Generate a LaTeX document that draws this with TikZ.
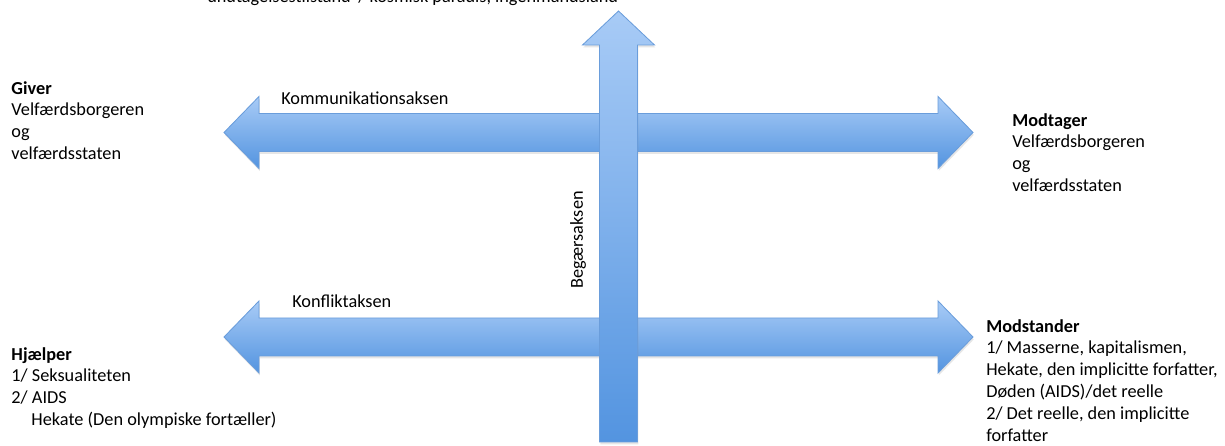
\documentclass[tikz,border=0pt]{standalone}
\usepackage{fontspec}
\setmainfont{Carlito}
\usetikzlibrary{shadows}
\definecolor{axislight}{HTML}{A8CBF6}
\definecolor{axisdark}{HTML}{5394E0}
\definecolor{axisline}{HTML}{6A9DDB}
\tikzset{
axis/.style={draw=axisline, line width=0.6pt, top color=axislight, bottom color=axisdark,
  drop shadow={shadow xshift=0.02cm, shadow yshift=-0.06cm, opacity=0.2}},
lbl/.style={inner sep=0, font=\fontsize{13}{15.5}\selectfont, align=left},
twoway/.pic={
  \draw[axis] (-9.3625,0) -- (-8.4875,0.9) -- (-8.4875,0.475) -- (8.4875,0.475) -- (8.4875,0.9)
    -- (9.3625,0) -- (8.4875,-0.9) -- (8.4875,-0.475) -- (-8.4875,-0.475) -- (-8.4875,-0.9) -- cycle;
  },
oneway/.pic={
  \draw[axis] (-0.475,0) -- (-0.475,9.925) -- (-0.9,9.925) -- (0,10.775) -- (0.9,9.925)
    -- (0.475,9.925) -- (0.475,0) -- cycle;
  }
}
\begin{document}
\begin{tikzpicture}
\useasboundingbox (0,0) rectangle (30.625,11.15);
  \pic at (14.9625,7.8375) {twoway};
  \pic at (14.9625,2.725) {twoway};
  \pic at (15.4625,0.1) {oneway};
\node[lbl, anchor=base west] (objekt) at (5.175,11.075) {undtagelsestilstand”/ kosmisk paradis, ingenmandsland};
\node[lbl, anchor=west] (kommunikation) at (7.025,8.7) {Kommunikationsaksen};
\node[lbl, anchor=west] (konflikt) at (7.3,3.625) {Konfliktaksen};
\node[lbl, rotate=90] (begaer) at (14.45,5.15) {Begærsaksen};
\node[lbl, anchor=north west] (giver) at (0.28,9.125) {\textbf{Giver}\\Velfærdsborgeren\\og\\velfærdsstaten};
\node[lbl, anchor=north west] (modtager) at (25.3,8.325) {\textbf{Modtager}\\Velfærdsborgeren\\og\\velfærdsstaten};
\node[lbl, anchor=north west] (hjaelper) at (0.28,2.475) {\textbf{Hjælper}\\1/ Seksualiteten\\2/ AIDS\\\hspace{0.5cm}Hekate (Den olympiske fortæller)};
\node[lbl, anchor=north west] (modstander) at (24.65,3.175) {\textbf{Modstander}\\1/ Masserne, kapitalismen,\\Hekate, den implicitte forfatter,\\Døden (AIDS)/det reelle\\2/ Det reelle, den implicitte\\forfatter};
\end{tikzpicture}
\end{document}
